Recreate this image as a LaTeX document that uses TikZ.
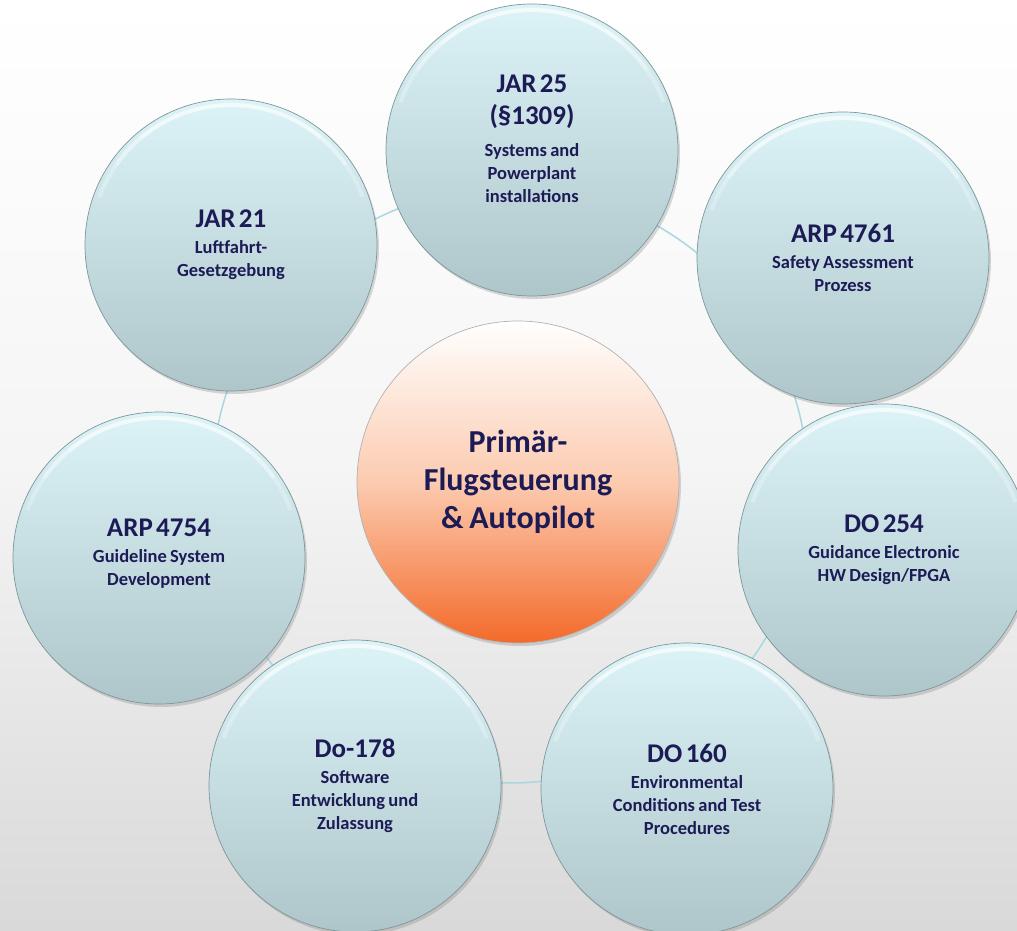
\documentclass[tikz,border=0pt]{standalone}
\usepackage{fontspec}
\setmainfont{Carlito}
\usepackage{tikz}
\usetikzlibrary{shadows, positioning}
\definecolor{BubbleTop}{HTML}{DCF4F8}
\definecolor{BubbleBottom}{HTML}{AEC6CA}
\definecolor{BubbleEdge}{HTML}{7E979B}
\definecolor{CoreMid}{HTML}{FCCBB0}
\definecolor{CoreBottom}{HTML}{F36A2A}
\definecolor{RingLine}{HTML}{A8D8DF}
\definecolor{TextNavy}{HTML}{1D1B56}

% title block over a smaller description block
\newcommand{\bubbletext}[3][3pt]{{\fontsize{27}{32}\selectfont #2\par}\vspace{#1}{\fontsize{18.5}{23}\selectfont #3\par}}

\tikzset{
    bubble/.style={circle, minimum size=292pt, inner sep=0pt, draw=BubbleEdge, line width=0.7pt,
        top color=BubbleTop, bottom color=BubbleBottom,
        drop shadow={shadow xshift=2pt, shadow yshift=-3pt, opacity=0.3},
        path picture={
            \foreach \a/\b/\o in {20/160/0.25, 35/145/0.3, 50/130/0.35}
                \draw[white, line width=4pt, opacity=\o] (path picture bounding box.center) ++(\a:140pt)
                    arc[start angle=\a, end angle=\b, radius=140pt];
        }},
    core/.style={circle, minimum size=322pt, inner sep=0pt, draw=gray!60, line width=0.7pt,
        top color=white, bottom color=CoreBottom, middle color=CoreMid,
        drop shadow={shadow xshift=2pt, shadow yshift=-3pt, opacity=0.3}},
    caption/.style={text width=250pt, align=center, text=TextNavy, font=\bfseries},
    ring/.style={RingLine, line width=1.5pt}
}

\begin{document}
\begin{tikzpicture}[x=1pt, y=1pt]
    \useasboundingbox (0,0) rectangle (1017,930);
    % Background
    \shade[top color=white, bottom color=gray!30, middle color=gray!8] (0,0) rectangle (1017,930);
    % Ring behind the outer circles
    \coordinate (hub) at (510,445);
    \draw[ring] (hub) circle[radius=298];
    % Centre
    \node[core] (core) at (518,448) {};
    % Surrounding standards
    \node[bubble] (jar25) at (532,780) {};
    \node[bubble] (arp4761) at (843,672) {};
    \node[bubble] (do254) at (884,380) {};
    \node[bubble] (do160) at (687,141) {};
    \node[bubble] (do178) at (355,144) {};
    \node[bubble] (arp4754) at (159,372) {};
    \node[bubble] (jar21) at (231,685) {};
    % Texts
    \node[caption, font=\bfseries\fontsize{32}{38}\selectfont] (core-text) at (core) {Primär-\\Flugsteuerung\\\&\kern-5pt{} Autopilot};
    \node[caption, yshift=11pt] (jar25-text) at (jar25) {\bubbletext[9pt]{JAR 25\\(\S1309)}{Systems and\\Powerplant\\installations}};
    \node[caption] (arp4761-text) at (arp4761) {\bubbletext{ARP 4761}{Safety Assessment\\Prozess}};
    \node[caption] (do254-text) at (do254) {\bubbletext{DO 254}{Guidance Electronic\\HW Design/FPGA}};
    \node[caption] (do160-text) at (do160) {\bubbletext{DO 160}{Environmental\\Conditions and Test\\Procedures}};
    \node[caption] (do178-text) at (do178) {\bubbletext{Do-178}{Software\\Entwicklung und\\Zulassung}};
    \node[caption, yshift=4pt] (arp4754-text) at (arp4754) {\bubbletext{ARP 4754}{Guideline System\\Development}};
    \node[caption] (jar21-text) at (jar21) {\bubbletext{JAR 21}{Luftfahrt-\\Gesetzgebung}};
\end{tikzpicture}
\end{document}
